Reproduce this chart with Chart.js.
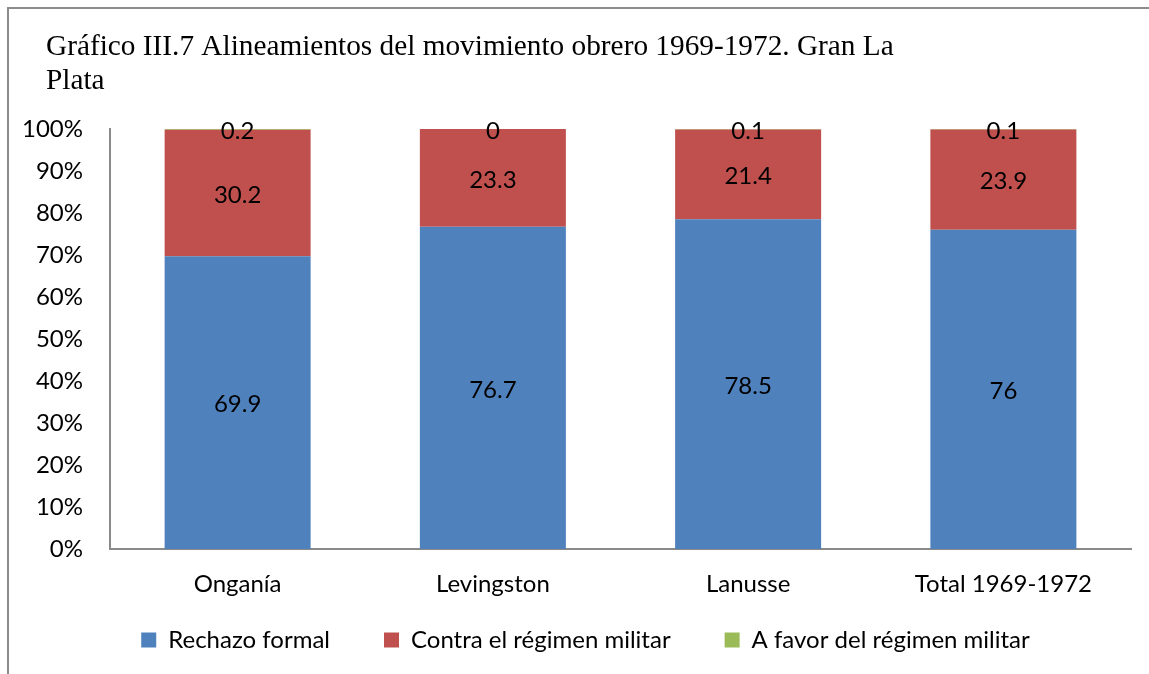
<!DOCTYPE html>
<html>
<head>
<meta charset="utf-8">
<script src="https://cdn.jsdelivr.net/npm/chart.js@4.4.1/dist/chart.umd.min.js"></script>
<style>
    body { margin: 0; background: #fff; }
    #wrap { position: relative; width: 1149px; height: 674px; }
    #frame {
        position: absolute; left: 7px; top: 7px; right: -10px; bottom: -10px;
        border-left: 2px solid #8c8c8c; border-top: 2px solid #8c8c8c;
        pointer-events: none;
    }
</style>
</head>
<body>
<div id="wrap">
    <canvas id="alineamientosChart" width="1149" height="674"></canvas>
    <div id="frame"></div>
</div>
<script>
const categories = ['Onganía', 'Levingston', 'Lanusse', 'Total 1969-1972'];
const rechazoFormal = [69.9, 76.7, 78.5, 76];
const contraRegimen = [30.2, 23.3, 21.4, 23.9];
const aFavorRegimen = [0.2, 0, 0.1, 0.1];
const yTicks = [0, 10, 20, 30, 40, 50, 60, 70, 80, 90, 100];

const labelFont = { family: 'Lato', size: 24 };

// 100% stacked, like the spreadsheet chart: scale each column to its own total
const totals = categories.map((c, i) => rechazoFormal[i] + contraRegimen[i] + aFavorRegimen[i]);
function toPercent(values) {
    return values.map((v, i) => v / totals[i] * 100);
}

// Draws the raw value in the middle of every segment
const segmentLabels = {
    id: 'segmentLabels',
    afterDatasetsDraw(chart) {
        const ctx = chart.ctx;
        ctx.save();
        ctx.font = labelFont.size + 'px ' + labelFont.family;
        ctx.fillStyle = '#000';
        ctx.textAlign = 'center';
        ctx.textBaseline = 'middle';
        chart.data.datasets.forEach((ds, di) => {
            const meta = chart.getDatasetMeta(di);
            meta.data.forEach((bar, i) => {
                const y = (bar.y + bar.base) / 2 + 2;
                ctx.fillText(String(ds.rawValues[i]), bar.x, y);
            });
        });
        ctx.restore();
    }
};

// Title sits further right than the y axis labels, legend a bit right of centre
const blockShift = {
    id: 'blockShift',
    afterLayout(chart) {
        if (chart.titleBlock) chart.titleBlock.left = 46;
        if (chart.legend) {
            chart.legend.left += 10;
            chart.legend.right += 10;
        }
    }
};

const ctx = document.getElementById('alineamientosChart');

new Chart(ctx, {
    type: 'bar',
    data: {
        labels: categories,
        datasets: [
            {
                label: 'Rechazo formal',
                data: toPercent(rechazoFormal),
                rawValues: rechazoFormal,
                backgroundColor: '#4F81BD'
            },
            {
                label: 'Contra el régimen militar',
                data: toPercent(contraRegimen),
                rawValues: contraRegimen,
                backgroundColor: '#C0504D'
            },
            {
                label: 'A favor del régimen militar',
                data: toPercent(aFavorRegimen),
                rawValues: aFavorRegimen,
                backgroundColor: '#9BBB59'
            }
        ]
    },
    options: {
        responsive: false,
        animation: false,
        categoryPercentage: 1,
        barPercentage: 0.572,
        layout: {
            padding: { left: 20, right: 18, top: 0, bottom: 12 }
        },
        plugins: {
            title: {
                display: true,
                align: 'start',
                text: ['Gráfico III.7 Alineamientos del movimiento obrero 1969-1972. Gran La', 'Plata'],
                color: '#000',
                font: { family: 'Liberation Serif', size: 29.3, weight: 'normal', lineHeight: 1.16 },
                padding: { top: 30, bottom: 31 }
            },
            legend: {
                position: 'bottom',
                labels: {
                    color: '#000',
                    font: labelFont,
                    boxWidth: 15,
                    boxHeight: 15,
                    padding: 54
                }
            },
            tooltip: { enabled: false }
        },
        scales: {
            x: {
                stacked: true,
                afterFit: function(scale) {
                    // short box so the legend's top padding overlaps it;
                    // labels are then drawn without clipping to that box
                    scale.height = 25;
                    scale._computeLabelArea = function() { return null; };
                },
                grid: { display: false, drawTicks: false },
                border: { color: '#8a8a8a', width: 2 },
                ticks: { color: '#000', font: labelFont, padding: 21 }
            },
            y: {
                stacked: true,
                min: 0,
                max: 100,
                afterFit: function(scale) {
                    scale.width = 90;
                },
                afterBuildTicks: function(scale) {
                    scale.ticks = yTicks.map(v => ({ value: v }));
                },
                grid: { display: false, drawTicks: false },
                border: { color: '#8a8a8a', width: 2 },
                ticks: {
                    color: '#000',
                    font: labelFont,
                    padding: 27,
                    callback: function(value) {
                        return value + '%';
                    }
                }
            }
        }
    },
    plugins: [segmentLabels, blockShift]
});
</script>
</body>
</html>
